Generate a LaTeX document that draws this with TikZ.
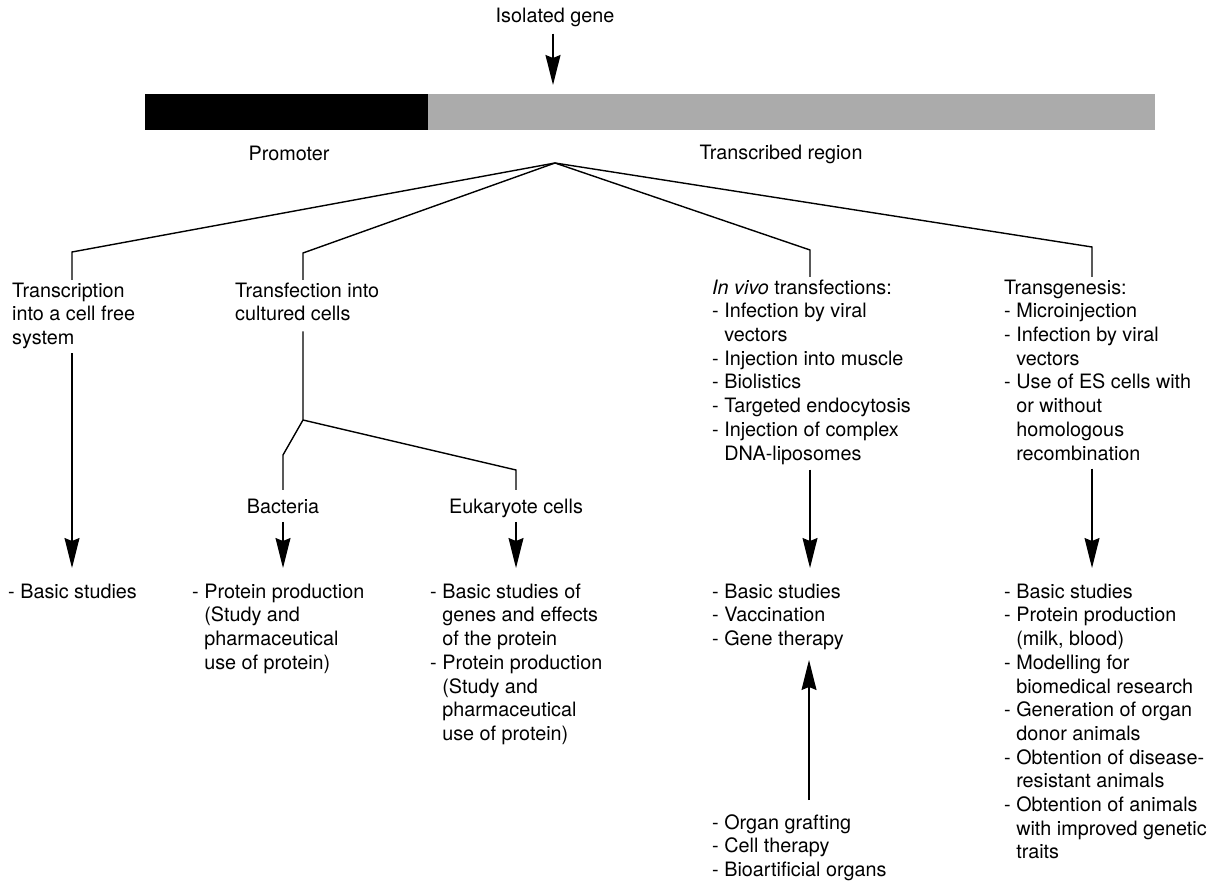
\documentclass[tikz,border=0pt]{standalone}
\usepackage{fontspec}
\setmainfont{TeX Gyre Heros}
\usetikzlibrary{arrows.meta}
\newcommand\hang{\hphantom{-\ }}
\newcommand\fl{\rule{0pt}{15pt}}
\begin{document}
\begin{tikzpicture}[x=1pt,y=-1pt,
  every node/.style={font=\fontsize{19.8}{23.7}\selectfont, inner sep=0pt},
  txt/.style={anchor=north west, align=left},
  lbl/.style={anchor=base},
  tree/.style={line width=1.4pt, line join=miter},
  arr/.style={line width=1.2pt, -{Stealth[length=30pt,width=15pt,inset=3pt]}}]
\useasboundingbox (0,0) rectangle (1219,882);

% gene bar
\fill[black] (145,94) rectangle (428,130);
\fill[black!33] (428,94) rectangle (1155,130);

\node[lbl] (iso) at (555,23) {Isolated gene};
\coordinate (tip0) at (553,85);
\draw[arr, line width=1.5pt, shorten <=6pt] (iso.south -| tip0) -- (tip0);

\node[lbl] (prom) at (289,161) {Promoter};
\node[lbl] (trans) at (781,160) {Transcribed region};

\coordinate (apex) at (555,163);
\coordinate (c1) at (72,252);
\coordinate (c2) at (303,253);
\coordinate (c3) at (810,250);
\coordinate (c4) at (1092,247);
\coordinate (e1) at (72,280);
\coordinate (e2) at (303,280);
\coordinate (e3) at (810,277);
\coordinate (e4) at (1092,277);

\draw[tree] (apex) -- (c1) -- (e1);
\draw[tree] (apex) -- (c2) -- (e2);
\draw[tree] (apex) -- (c3) -- (e3);
\draw[tree] (apex) -- (c4) -- (e4);

% branch texts
\node[txt] (t1) at (12,282) {\fl Transcription\\into a cell free\\system};
\node[txt] (t2) at (235,282) {\fl Transfection into\\cultured cells};
\node[txt] (t3) at (712,279) {\fl\textit{In vivo} transfections:\\- Infection by viral\\\hang vectors\\- Injection into muscle\\- Biolistics\\- Targeted endocytosis\\- Injection of complex\\\hang DNA-liposomes};
\node[txt] (t4) at (1004,279) {\fl Transgenesis:\\- Microinjection\\- Infection by viral\\\hang vectors\\- Use of ES cells with\\\hang or without\\\hang homologous\\\hang recombination};

% arrow tips
\coordinate (d1) at (72,568);
\coordinate (d3) at (810,568);
\coordinate (d4) at (1092,568);
\coordinate (db) at (283,568);
\coordinate (de) at (516,568);

\draw[arr, shorten <=4pt] (t1.south -| c1) -- (d1);
\draw[arr, shorten <=5pt] (t3.south -| c3) -- (d3);
\draw[arr, shorten <=8pt] (t4.south -| c4) -- (d4);

% cultured cells split
\coordinate (split) at (303,420);
\coordinate (bk) at (283,455);
\coordinate (bk2) at (283,490);
\coordinate (ek) at (516,470);
\coordinate (ek2) at (516,490);
\draw[tree] (t2.south -| c2) ++(0,10) -- (split) -- (bk) -- (bk2);
\draw[tree] (split) -- (ek) -- (ek2);

\node[lbl] (bac) at (283,514) {Bacteria};
\node[lbl] (euk) at (516,514) {Eukaryote cells};
\draw[arr, shorten <=8pt] (bac.base) -- (db);
\draw[arr, shorten <=8pt] (euk.base) -- (de);

% results
\node[txt] (r1) at (8,583) {\fl - Basic studies};
\node[txt] (r2) at (192,583) {\fl - Protein production\\\hang(Study and\\\hang pharmaceutical\\\hang use of protein)};
\node[txt] (r3) at (430,583) {\fl - Basic studies of\\\hang genes and effects\\\hang of the protein\\- Protein production\\\hang(Study and\\\hang pharmaceutical\\\hang use of protein)};
\node[txt] (r4) at (712,583) {\fl - Basic studies\\- Vaccination\\- Gene therapy};
\node[txt] (r5) at (1004,583) {\fl - Basic studies\\- Protein production\\\hang(milk, blood)\\- Modelling for\\\hang biomedical research\\- Generation of organ\\\hang donor animals\\- Obtention of disease-\\\hang resistant animals\\- Obtention of animals\\\hang with improved genetic\\\hang traits};
\node[txt] (r6) at (712,814) {\fl - Organ grafting\\- Cell therapy\\- Bioartificial organs};

\coordinate (u0) at (809,800);
\coordinate (u1) at (809,660);
\draw[arr] (u0) -- (u1);
\end{tikzpicture}
\end{document}
